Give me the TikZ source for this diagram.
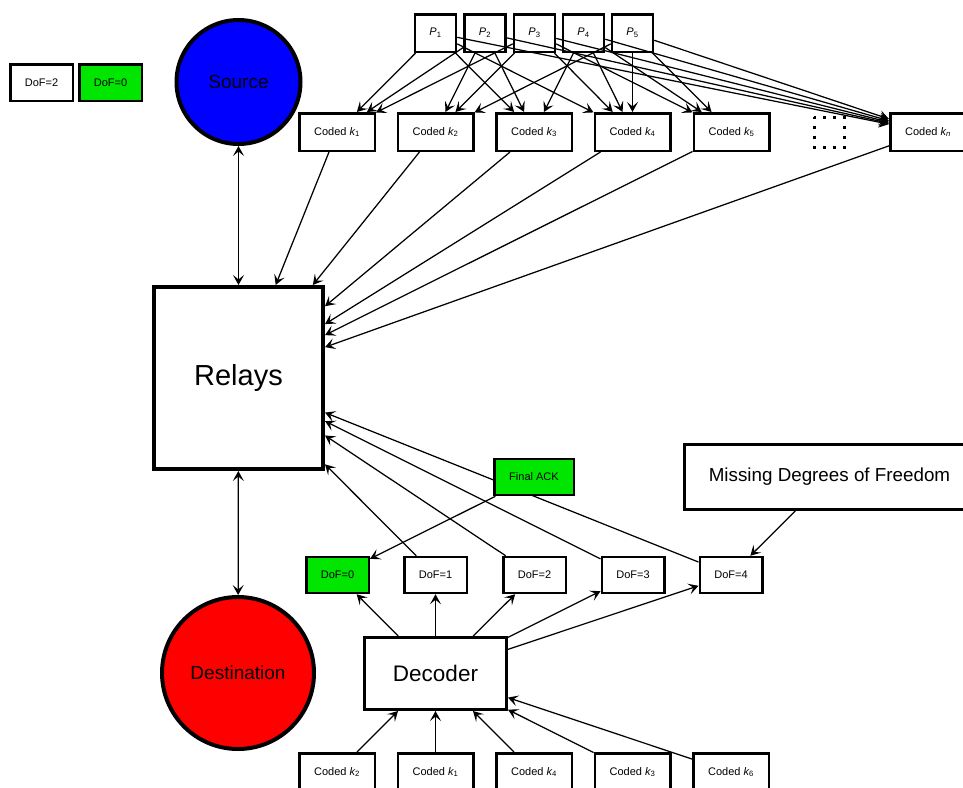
\documentclass[tikz,border=0pt]{standalone}
\usepackage{fontspec}
\setmainfont{Liberation Sans}
\usetikzlibrary{arrows.meta}
\definecolor{ackgreen}{RGB}{0,230,0}
\definecolor{srcblue}{RGB}{0,0,255}
\definecolor{dstred}{RGB}{255,0,0}
\pgfdeclarelayer{links}
\pgfsetlayers{links,main}
\newcommand{\coded}[1]{Coded {\itshape k}\textsubscript{#1}}
\newcommand{\pkt}[1]{{\itshape P}\textsubscript{#1}}
\tikzset{
  box/.style={draw, line width=2.5pt, inner sep=0pt, align=center,
    font=\fontsize{11}{13}\selectfont},
  pbox/.style={box, minimum width=41pt, minimum height=37.5pt},
  codedbox/.style={box, minimum width=75.5pt, minimum height=37.5pt},
  dofbox/.style={box, minimum width=62.5pt, minimum height=36pt},
  greenbox/.style={fill=ackgreen},
  bigbox/.style={draw, inner sep=0pt, align=center},
  disc/.style={circle, draw, line width=4pt, inner sep=0pt,
    font=\fontsize{19}{22}\selectfont},
  tip/.tip={Stealth[length=10pt, width=11pt, inset=4.5pt]},
  link/.style={line width=1.25pt, -tip},
  bilink/.style={line width=1.25pt, tip-tip}
}
\begin{document}
\begin{tikzpicture}[x=1pt, y=-1pt]
\useasboundingbox (0,0) rectangle (963,787);

% legend
\node[dofbox, minimum height=36.5pt] (leg2) at (41.5,82.5) {DoF=2};
\node[dofbox, greenbox, minimum height=36.5pt] (leg0) at (110.5,82.5) {DoF=0};

% end points of the network
\node[disc, fill=srcblue, minimum size=124pt] (src) at (238.5,82) {Source};
\node[disc, fill=dstred, minimum size=152pt] (dst) at (238,673) {Destination};
\node[bigbox, line width=4pt, minimum width=169pt, minimum height=182pt,
  font=\fontsize{29}{32}\selectfont] (relays) at (238.5,378) {Relays};

% original packets
\node[pbox] (p1) at (435.5,33) {\pkt{1}};
\node[pbox] (p2) at (485,33) {\pkt{2}};
\node[pbox] (p3) at (534.5,33) {\pkt{3}};
\node[pbox] (p4) at (583.5,33) {\pkt{4}};
\node[pbox] (p5) at (632.5,33) {\pkt{5}};

% coded packets sent out
\node[codedbox] (k1) at (337,132) {\coded{1}};
\node[codedbox] (k2) at (435.5,132) {\coded{2}};
\node[codedbox] (k3) at (534,132) {\coded{3}};
\node[codedbox] (k4) at (632.5,132) {\coded{4}};
\node[codedbox] (k5) at (731.5,132) {\coded{5}};
\node[codedbox] (kn) at (928,132) {Coded {\itshape k}\textsubscript{\itshape n}};
\draw[line width=3pt, dash pattern=on 3pt off 7pt, dash phase=1.5pt]
  (814,117) rectangle (844,147);

% feedback side
\node[box, greenbox, minimum width=79.5pt, minimum height=36pt] (ack) at (534,477) {Final ACK};
\node[bigbox, line width=3pt, minimum width=290pt, minimum height=65pt,
  font=\fontsize{18.8}{22}\selectfont] (missing) at (829.5,477) {Missing Degrees of Freedom};
\node[dofbox, greenbox] (d0) at (337.5,575) {DoF=0};
\node[dofbox] (d1) at (435.5,575) {DoF=1};
\node[dofbox] (d2) at (534.5,575) {DoF=2};
\node[dofbox] (d3) at (633,575) {DoF=3};
\node[dofbox] (d4) at (731,575) {DoF=4};
\node[bigbox, line width=3pt, minimum width=142pt, minimum height=72pt,
  font=\fontsize{22.5}{26}\selectfont] (dec) at (435.5,673.5) {Decoder};

% coded packets received
\node[codedbox] (b2) at (337,772) {\coded{2}};
\node[codedbox] (b1) at (435.5,772) {\coded{1}};
\node[codedbox] (b4) at (534,772) {\coded{4}};
\node[codedbox] (b3) at (632.5,772) {\coded{3}};
\node[codedbox] (b6) at (731,772) {\coded{6}};

\begin{pgfonlayer}{links}
  \draw[bilink] (src) -- (relays);
  \draw[bilink] (relays) -- (dst);
  % packet combinations
  \foreach \k in {k1,k3,k4,kn} \draw[link] (p1) -- (\k);
  \foreach \k in {k1,k2,k3,kn} \draw[link] (p2) -- (\k);
  \foreach \k in {k1,k2,k4,k5,kn} \draw[link] (p3) -- (\k);
  \foreach \k in {k3,k4,k5,kn} \draw[link] (p4) -- (\k);
  \foreach \k in {k2,k4,k5,kn} \draw[link] (p5) -- (\k);
  % coded packets into the relays
  \foreach \k in {k1,k2,k3,k4,k5,kn} \draw[link] (\k) -- (relays);
  % feedback into the relays
  \foreach \d in {d1,d2,d3,d4} \draw[link] (\d) -- (relays);
  \draw[link] (ack) -- (d0);
  \foreach \d in {d0,d1,d2,d3,d4} \draw[link] (dec) -- (\d);
  \draw[link] (missing) -- (d4);
  \foreach \b in {b2,b1,b4,b3,b6} \draw[link] (\b) -- (dec);
\end{pgfonlayer}
\end{tikzpicture}
\end{document}
